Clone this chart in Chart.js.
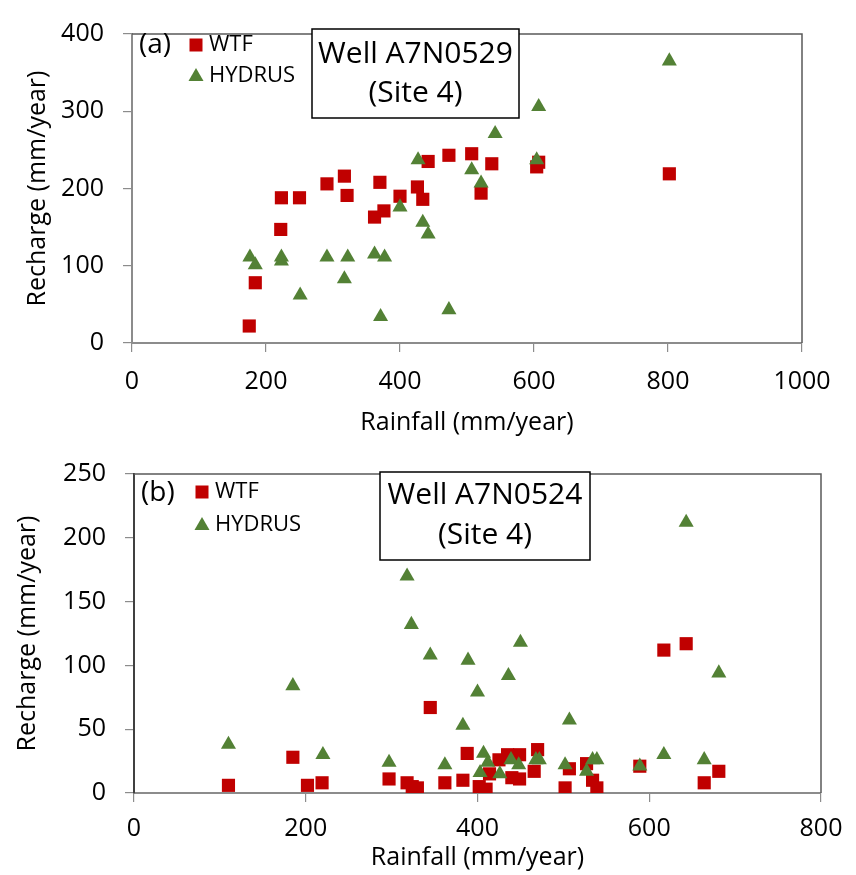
<!DOCTYPE html>
<html>
<head>
<meta charset="utf-8">
<script src="https://cdn.jsdelivr.net/npm/chart.js@4.4.1/dist/chart.umd.min.js"></script>
<style>
  body { margin: 0; background: #fff; }
  canvas { display: block; }
</style>
</head>
<body>
<canvas id="chartA" width="856" height="440"></canvas>
<canvas id="chartB" width="856" height="435"></canvas>
<script>
// panel (a) - Well A7N0529
const rainWtfA = [175, 184, 222, 223, 250, 291, 317, 321, 362, 376, 370, 400, 426, 434, 442, 473, 507, 521, 537, 604, 607, 802];
const rechWtfA = [22, 78, 147, 188, 188, 206, 216, 191, 163, 171, 208, 190, 202, 186, 235, 243, 245, 194, 232, 228, 234, 219];
const rainHydA = [176, 184, 223, 223, 251, 291, 317, 322, 362, 377, 371, 400, 427, 434, 442, 473, 507, 521, 542, 604, 607, 802];
const rechHydA = [111, 101, 111, 106, 62, 111, 83, 111, 115, 111, 34, 176, 237, 156, 141, 43, 224, 207, 271, 237, 306, 365];

// panel (b) - Well A7N0524
const rainWtfB = [110, 185, 202, 219, 297, 318, 324, 330, 345, 362, 383, 388, 402, 410, 414, 425, 435, 440, 449, 449, 466, 470, 502, 507, 527, 534, 539, 589, 617, 643, 664, 681];
const rechWtfB = [6, 28, 6, 8, 11, 8, 5, 4, 67, 8, 10, 31, 5, 3, 15, 26, 30, 12, 30, 11, 17, 34, 4, 19, 23, 10, 4, 21, 112, 117, 8, 17];
const rainHydB = [110, 185, 220, 297, 318, 323, 345, 362, 383, 389, 400, 407, 412, 403, 426, 436, 439, 448, 450, 468, 472, 502, 507, 527, 534, 539, 589, 617, 643, 664, 681];
const rechHydB = [38, 84, 30, 24, 170, 132, 108, 22, 53, 104, 79, 31, 24, 16, 15, 92, 26, 22, 118, 26, 26, 22, 57, 17, 26, 26, 21, 30, 212, 26, 94];

const seriesNames = ['WTF', 'HYDRUS'];
const red = '#C00000';
const green = '#538135';

Chart.defaults.font.family = "'Open Sans', sans-serif";
Chart.defaults.color = '#000';

const pairs = (xs, ys) => xs.map((x, i) => ({ x: x, y: ys[i] }));

const decor = {
  id: 'decor',
  beforeDatasetsDraw(chart, args, o) {
    const { ctx, chartArea: a } = chart;
    ctx.save();
    ctx.strokeStyle = '#595959';
    ctx.lineWidth = 1.5;
    ctx.beginPath();
    ctx.moveTo(a.left, a.top);
    ctx.lineTo(a.right, a.top);
    ctx.lineTo(a.right, a.bottom);
    ctx.stroke();
    ctx.restore();
  },
  afterDatasetsDraw(chart, args, o) {
    const ctx = chart.ctx;
    ctx.save();
    // panel letter
    ctx.fillStyle = '#000';
    ctx.textBaseline = 'middle';
    ctx.textAlign = 'left';
    ctx.font = "28px 'Open Sans'";
    ctx.fillText(o.letter, o.letterX, o.letterY);
    // legend
    ctx.fillStyle = red;
    ctx.fillRect(o.legX - 6.5, o.legY1 - 6.5, 13, 13);
    ctx.fillStyle = green;
    ctx.beginPath();
    ctx.moveTo(o.legX, o.legY2 - 8);
    ctx.lineTo(o.legX + 7.5, o.legY2 + 5);
    ctx.lineTo(o.legX - 7.5, o.legY2 + 5);
    ctx.closePath();
    ctx.fill();
    ctx.fillStyle = '#000';
    ctx.font = "22px 'Open Sans'";
    ctx.fillText(seriesNames[0], o.legX + 13, o.legY1);
    ctx.fillText(seriesNames[1], o.legX + 13, o.legY2);
    // well box
    const b = o.box;
    ctx.fillStyle = '#fff';
    ctx.fillRect(b[0], b[1], b[2] - b[0], b[3] - b[1]);
    ctx.strokeStyle = '#000';
    ctx.lineWidth = 1.5;
    ctx.strokeRect(b[0], b[1], b[2] - b[0], b[3] - b[1]);
    ctx.fillStyle = '#000';
    ctx.textAlign = 'center';
    ctx.font = "30px 'Open Sans'";
    ctx.fillText(o.well, (b[0] + b[2]) / 2, o.lineY[0]);
    ctx.fillText('(Site 4)', (b[0] + b[2]) / 2, o.lineY[1]);
    ctx.restore();
  }
};

function makePanel(id, wtf, hyd, xMax, xStep, yMax, yStep, lay, deco) {
  return new Chart(document.getElementById(id), {
    type: 'scatter',
    data: {
      datasets: [
        { label: seriesNames[0], data: wtf, pointStyle: 'rect', pointRadius: 9.3, pointHoverRadius: 9.3,
          backgroundColor: red, borderWidth: 0, order: 1 },
        { label: seriesNames[1], data: hyd, pointStyle: 'triangle', pointRadius: 8.7, pointHoverRadius: 8.7,
          backgroundColor: green, borderWidth: 0, order: 0 }
      ]
    },
    options: {
      responsive: false,
      animation: false,
      layout: { padding: { top: lay.top, right: lay.right, left: 0, bottom: 0 } },
      plugins: {
        legend: { display: false },
        tooltip: { enabled: false },
        decor: deco
      },
      scales: {
        x: {
          type: 'linear', min: 0, max: xMax,
          ticks: { stepSize: xStep, padding: lay.xTickPad, font: { size: 25 }, callback: (v) => String(v) },
          grid: { drawOnChartArea: false, tickLength: 9, color: '#8c8c8c', lineWidth: 1.2 },
          border: { color: '#8c8c8c', width: 2 },
          title: { display: true, text: 'Rainfall (mm/year)', font: { size: 25 }, padding: { top: 0, bottom: lay.xTitlePad } },
          afterFit: (s) => { s.height = lay.xHeight; }
        },
        y: {
          type: 'linear', min: 0, max: yMax,
          ticks: { stepSize: yStep, padding: 19, font: { size: 25 }, callback: (v) => String(v) },
          grid: { drawOnChartArea: false, tickLength: 9, color: '#8c8c8c', lineWidth: 1.2 },
          border: { color: lay.yBorder, width: 2 },
          title: { display: true, text: 'Recharge (mm/year)', font: { size: 25 }, padding: { top: lay.yTitlePad, bottom: 0 } },
          afterFit: (s) => { s.width = lay.yWidth; }
        }
      }
    },
    plugins: [decor]
  });
}

makePanel('chartA', pairs(rainWtfA, rechWtfA), pairs(rainHydA, rechHydA), 1000, 200, 400, 100,
  { top: 23, right: 54, xHeight: 97, xTickPad: 15, xTitlePad: 2, yWidth: 132, yTitlePad: 23, yBorder: '#8c8c8c' },
  { letter: '(a)', letterX: 139, letterY: 45, legX: 196, legY1: 45, legY2: 76,
    box: [312, 29, 519, 118], well: 'Well A7N0529', lineY: [54, 93] });

makePanel('chartB', pairs(rainWtfB, rechWtfB), pairs(rainHydB, rechHydB), 800, 200, 250, 50,
  { top: 26, right: 35, xHeight: 82, xTickPad: 12, xTitlePad: 2, yWidth: 134, yTitlePad: 13, yBorder: '#404040' },
  { letter: '(b)', letterX: 141, letterY: 53, legX: 202, legY1: 52, legY2: 85,
    box: [380, 32, 590, 120], well: 'Well A7N0524', lineY: [55, 95] });
</script>
</body>
</html>
